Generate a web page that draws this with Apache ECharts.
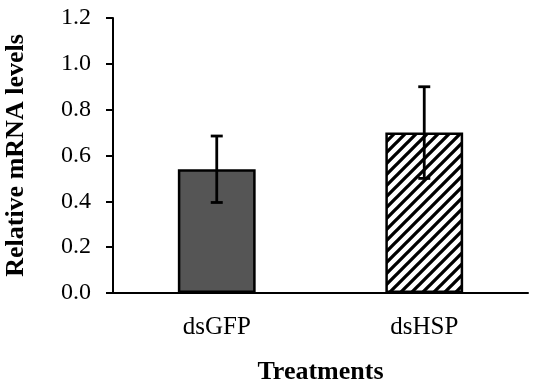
<!DOCTYPE html>
<html>
<head>
<meta charset="utf-8">
<script src="https://cdn.jsdelivr.net/npm/echarts@6/dist/echarts.min.js"></script>
<style>
  html, body { margin: 0; padding: 0; background: #fff; }
  #chart { width: 536px; height: 389px; }
</style>
</head>
<body>
<div id="chart"></div>
<script>
const categories = ['dsGFP', 'dsHSP']
const means = [0.54, 0.70]
const errors = [0.145, 0.20]
const yTicks = [0, 0.2, 0.4, 0.6, 0.8, 1.0, 1.2]

// diagonal hatch for the second bar
const makeHatch = () => {
  const size = 11
  const c = document.createElement('canvas')
  c.width = size
  c.height = size
  const ctx = c.getContext('2d')
  ctx.fillStyle = '#fff'
  ctx.fillRect(0, 0, size, size)
  ctx.strokeStyle = '#000'
  ctx.lineWidth = 3.3
  ctx.beginPath()
  ctx.moveTo(-1, size + 1); ctx.lineTo(size + 1, -1)
  ctx.moveTo(-size / 2 - 1, size / 2 + 1); ctx.lineTo(size / 2 + 1, -size / 2 - 1)
  ctx.moveTo(size / 2 - 1, size * 1.5 + 1); ctx.lineTo(size * 1.5 + 1, size / 2 - 1)
  ctx.stroke()
  return c
}

const chart = echarts.init(document.getElementById('chart'))
const font = 'Liberation Serif, Times New Roman, serif'

const barData = means.map((v, i) => ({
  value: v,
  itemStyle: i === 0
    ? { color: '#555555' }
    : { color: { image: makeHatch(), repeat: 'repeat' } }
}))

const option = {
  animation: false,
  grid: { left: 113, right: 8, top: 18, bottom: 96, containLabel: false, outerBoundsMode: 'none' },
  xAxis: {
    type: 'category',
    data: categories,
    name: 'Treatments',
    nameLocation: 'middle',
    nameGap: 66,
    nameTextStyle: { fontFamily: font, fontSize: 26, fontWeight: 'bold', color: '#000' },
    axisLine: { lineStyle: { color: '#000', width: 2 } },
    axisTick: { show: false },
    axisLabel: { fontFamily: font, fontSize: 25, color: '#000', margin: 22 }
  },
  yAxis: {
    type: 'value',
    min: 0,
    max: yTicks[yTicks.length - 1],
    interval: 0.2,
    name: 'Relative mRNA levels',
    nameLocation: 'middle',
    nameGap: 84,
    nameTextStyle: { fontFamily: font, fontSize: 26, fontWeight: 'bold', color: '#000' },
    axisLine: { show: true, lineStyle: { color: '#000', width: 2 } },
    axisTick: { show: true, length: 7, lineStyle: { color: '#000', width: 2 } },
    splitLine: { show: false },
    axisLabel: {
      fontFamily: font, fontSize: 24, color: '#000', margin: 22,
      formatter: v => v.toFixed(1)
    }
  },
  series: [
    {
      type: 'bar',
      data: barData,
      barWidth: '37.5%',
      itemStyle: { borderColor: '#000', borderWidth: 2.5 }
    },
    {
      type: 'custom',
      data: means.map((v, i) => [i, v - errors[i], v + errors[i]]),
      z: 10,
      renderItem: (params, api) => {
        const lo = api.coord([api.value(0), api.value(1)])
        const hi = api.coord([api.value(0), api.value(2)])
        const cap = 6
        const style = { stroke: '#000', lineWidth: 2.8 }
        return {
          type: 'group',
          children: [
            { type: 'line', shape: { x1: hi[0], y1: hi[1], x2: lo[0], y2: lo[1] }, style },
            { type: 'line', shape: { x1: hi[0] - cap, y1: hi[1], x2: hi[0] + cap, y2: hi[1] }, style },
            { type: 'line', shape: { x1: lo[0] - cap, y1: lo[1], x2: lo[0] + cap, y2: lo[1] }, style }
          ]
        }
      }
    }
  ]
}

chart.setOption(option)
</script>
</body>
</html>
